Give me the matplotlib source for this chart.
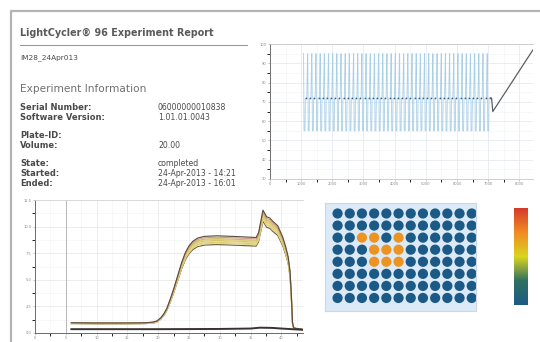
import numpy as np
import matplotlib
matplotlib.use("Agg")
import matplotlib.pyplot as plt
from matplotlib.colors import LinearSegmentedColormap
from matplotlib.ticker import MultipleLocator

# ---------------- data ----------------
report_title = "LightCycler\u00ae 96 Experiment Report"
run_name = "IM28_24Apr013"
section_title = "Experiment Information"
info_labels = ["Serial Number:", "Software Version:", "Plate-ID:", "Volume:",
               "State:", "Started:", "Ended:"]
info_values = ["06000000010838", "1.01.01.0043", "", "20.00",
               "completed", "24-Apr-2013 - 14:21", "24-Apr-2013 - 16:01"]

# temperature profile (seconds / degC)
cycle_start = 1070
cycle_length = 134
n_cycles = 45
cycle_step_offsets = [0, 8, 22, 52, 64, 110]
cycle_step_temps = [95, 95, 55, 55, 72, 72]
melt_times = [7110, 7150, 8440]
melt_temps = [72, 65, 97]
profile_xticks = [0, 1000, 2000, 3000, 4000, 5000, 6000, 7000, 8000]
profile_yticks = [30, 40, 50, 60, 70, 80, 90, 100]

# amplification curves
amp_x = [5.9, 10, 15, 18, 19.2, 19.8, 20.4, 20.9, 21.4, 22.0, 22.6, 23.2, 23.8,
         24.4, 25.0, 25.6, 26.4, 27.5, 29.5, 32, 35.9, 36.3, 37.0, 37.6, 38.1,
         38.6, 39.4, 40.2, 40.7, 41.1, 41.4, 41.6, 41.8, 42.0, 43.5]
amp_y = [0.92, 0.90, 0.90, 0.92, 0.98, 1.08, 1.35, 1.7, 2.2, 3.1, 4.1, 5.2, 6.3,
         7.2, 7.8, 8.2, 8.5, 8.65, 8.7, 8.65, 8.55, 9.0, 11.0, 10.4, 10.3,
         10.0, 9.6, 8.6, 7.7, 6.8, 5.5, 3.5, 0.9, 0.45, 0.32]
well_scale = [0.955, 0.97, 0.98, 0.99, 1.0, 1.01, 1.02, 1.035, 1.05]
well_colors = ["#6b5a30", "#e3d68a", "#dccb72", "#e8dc98", "#d8c466",
               "#e2d37f", "#cdb95c", "#c99a8c", "#5a4a38"]
neg_x = [5.9, 20, 30, 35, 36.5, 38.5, 40, 42, 43.5]
neg_y = [0.36, 0.36, 0.38, 0.42, 0.5, 0.48, 0.42, 0.35, 0.3]
amp_xticks = [0, 5, 10, 15, 20, 25, 30, 35, 40]
amp_yticks = [0, 2.5, 5.0, 7.5, 10.0, 12.5]

# plate heat map
plate_rows = ["A", "B", "C", "D", "E", "F", "G", "H"]
plate_cols = [1, 2, 3, 4, 5, 6, 7, 8, 9, 10, 11, 12]
positive_wells = ["C3", "C4", "C6", "D4", "D5", "D6", "E4", "E5", "E6"]
positive_value = 0.72
negative_value = 0.0
cmap_colors = ["#1b5a86", "#2f7060", "#d9d51e", "#f08a22", "#d63a2a"]

# ---------------- figure ----------------
W, H = 540, 342
fig = plt.figure(figsize=(W / 100, H / 100), dpi=100)
fig.patch.set_facecolor("white")

def fr(x0, y0, x1, y1):
    return [x0 / W, 1 - y1 / H, (x1 - x0) / W, (y1 - y0) / H]

page = fig.add_axes([0, 0, 1, 1], zorder=-5)
page.set_xlim(0, W)
page.set_ylim(H, 0)
page.axis("off")
page.plot([11, 11, W], [H, 11, 11], color="#b4b4b4", lw=1.6, solid_capstyle="butt")

txt = "#4a4a4a"
page.text(20, 33, report_title, fontsize=6.9, fontweight="bold", color="#5a5a5a", va="center")
page.plot([20, 247], [45, 45], color="#9a9a9a", lw=0.8)
page.text(20, 58, run_name, fontsize=5.3, color=txt, va="center")
page.text(20, 89, section_title, fontsize=7.6, color="#707070", va="center")
label_y = [107, 117, 136, 146, 164, 173, 183]
for lab, val, yy in zip(info_labels, info_values, label_y):
    page.text(20, yy, lab, fontsize=6.0, fontweight="bold", color=txt, va="center")
    if val:
        page.text(158, yy, val, fontsize=5.6, color=txt, va="center")

# ---- temperature profile ----
ax1 = fig.add_axes(fr(270, 44, 533, 179))
tt, temps = [], []
for c in range(n_cycles):
    t0 = cycle_start + c * cycle_length
    for off, temp in zip(cycle_step_offsets, cycle_step_temps):
        tt.append(t0 + off)
        temps.append(temp)
ax1.plot(tt, temps, color="#a9cfe6", lw=0.6)
ext_t = [cycle_start + c * cycle_length + (cycle_step_offsets[4] + cycle_step_offsets[5]) / 2
         for c in range(n_cycles)]
ax1.plot(ext_t, [cycle_step_temps[4]] * n_cycles, ls="none", marker="o", ms=1.2,
         color="#3a5f8a", mew=0)
ax1.plot([tt[-1]] + melt_times, [temps[-1]] + melt_temps, color="#5f5f5f", lw=0.9)
ax1.set_xlim(0, 8440)
ax1.set_ylim(30, 100)
ax1.set_xticks(profile_xticks)
ax1.set_yticks(profile_yticks)
ax1.xaxis.set_minor_locator(MultipleLocator(500))
ax1.yaxis.set_minor_locator(MultipleLocator(5))
ax1.grid(which="major", color="#e2e8ee", lw=0.5)
ax1.grid(which="minor", color="#eef2f6", lw=0.4)
ax1.set_axisbelow(True)
ax1.tick_params(labelsize=2.6, labelcolor="#8a8a8a", length=1.2, width=0.4,
                color="#9a9a9a", pad=1.2)
for s in ["top", "bottom"]:
    ax1.spines[s].set_color("#c8c8c8")
    ax1.spines[s].set_linewidth(0.6)
ax1.spines["left"].set_color("#707070")
ax1.spines["left"].set_linewidth(0.7)
ax1.spines["right"].set_visible(False)

# ---- amplification curves ----
ax2 = fig.add_axes(fr(35, 200, 303, 333))
for sc, col in zip(well_scale, well_colors):
    ax2.plot(amp_x, [v * sc for v in amp_y], color=col, lw=0.8)
ax2.plot(neg_x, neg_y, color="#3a3232", lw=1.4)
ax2.axvline(5, color="#b0b0b0", lw=0.6)
ax2.set_xlim(0, 43.5)
ax2.set_ylim(0, 12.5)
ax2.set_xticks(amp_xticks)
ax2.set_yticks(amp_yticks)
ax2.xaxis.set_minor_locator(MultipleLocator(2.5))
ax2.yaxis.set_minor_locator(MultipleLocator(1.25))
ax2.grid(which="major", color="#e6e6e6", lw=0.5)
ax2.grid(which="minor", color="#f1f1f1", lw=0.4)
ax2.set_axisbelow(True)
ax2.tick_params(labelsize=2.6, labelcolor="#8a8a8a", length=1.2, width=0.4,
                color="#9a9a9a", pad=1.2)
ax2.spines["top"].set_color("#d6d6d6")
ax2.spines["top"].set_linewidth(0.6)
ax2.spines["right"].set_visible(False)
for s in ["left", "bottom"]:
    ax2.spines[s].set_color("#6a6a6a")
    ax2.spines[s].set_linewidth(0.7)

# ---- plate ----
cmap = LinearSegmentedColormap.from_list("lc96", cmap_colors)
ax3 = fig.add_axes(fr(325, 203, 476, 311))
ax3.set_facecolor("#dce9f6")
xs, ys, vals = [], [], []
for ri, r in enumerate(plate_rows):
    for c in plate_cols:
        xs.append(c)
        ys.append(ri + 1)
        vals.append(positive_value if f"{r}{c}" in positive_wells else negative_value)
ax3.scatter(xs, ys, c=vals, cmap=cmap, vmin=0, vmax=1, s=54, linewidths=0)
ax3.set_xlim(-0.03, 12.35)
ax3.set_ylim(9.08, 0.13)
ax3.set_xticks([])
ax3.set_yticks([])
for s in ax3.spines.values():
    s.set_color("#c9d7e6")
    s.set_linewidth(0.8)

# ---- colour bar ----
ax4 = fig.add_axes(fr(514, 208, 528, 305))
sm = plt.cm.ScalarMappable(cmap=cmap, norm=plt.Normalize(0, 1))
cb = fig.colorbar(sm, cax=ax4)
cb.set_ticks([])
cb.outline.set_visible(False)

fig.savefig("out.png", dpi=100, facecolor="white")
